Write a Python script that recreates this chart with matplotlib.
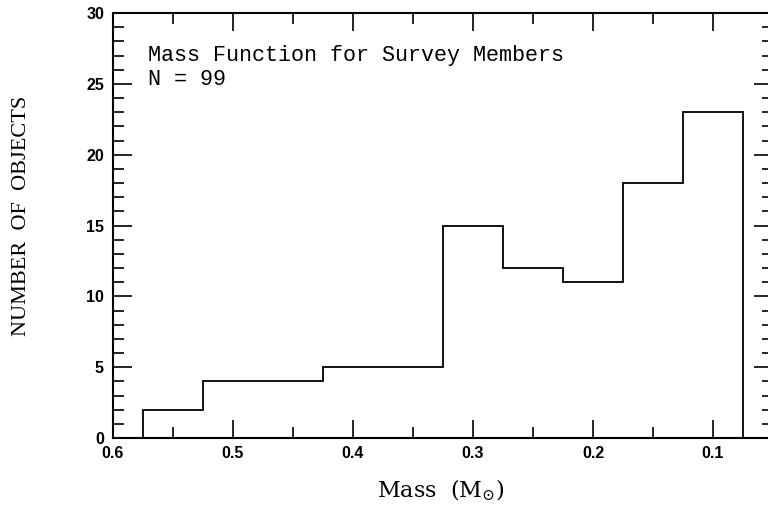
import matplotlib
matplotlib.use("Agg")
import matplotlib.pyplot as plt
from matplotlib.ticker import MultipleLocator
import numpy as np

# Data
bin_edges = [0.575, 0.525, 0.475, 0.425, 0.375, 0.325, 0.275, 0.225, 0.175, 0.125, 0.075]
counts = [2, 4, 4, 5, 5, 15, 12, 11, 18, 23]
x_ticks = [0.6, 0.5, 0.4, 0.3, 0.2, 0.1]
x_tick_labels = ["0.6", "0.5", "0.4", "0.3", "0.2", "0.1"]
y_ticks = [0, 5, 10, 15, 20, 25, 30]
title_line1 = "Mass Function for Survey Members"
title_line2 = "N = 99"

plt.rcParams['mathtext.fontset'] = 'dejavuserif'

fig = plt.figure(figsize=(7.68, 5.05), dpi=100)
ax = fig.add_axes([113/768, 67/505, 660/768, 425/505])

ax.stairs(counts, bin_edges, color='black', linewidth=1.3)

ax.set_xlim(0.6, 0.05)
ax.set_ylim(0, 30)

ax.set_xticks(x_ticks)
ax.set_xticklabels(x_tick_labels)
ax.xaxis.set_minor_locator(MultipleLocator(0.05))
ax.set_yticks(y_ticks)
ax.yaxis.set_minor_locator(MultipleLocator(1))

ax.tick_params(which='both', direction='in', top=True, right=True, width=1.2, color='black')
ax.tick_params(which='major', axis='x', length=13)
ax.tick_params(which='minor', axis='x', length=8)
ax.tick_params(which='major', axis='y', length=14)
ax.tick_params(which='minor', axis='y', length=8)
ax.tick_params(axis='x', pad=6)
ax.tick_params(axis='y', pad=6.5)

for lab in ax.get_xticklabels() + ax.get_yticklabels():
    lab.set_fontfamily('Liberation Sans')
    lab.set_fontweight('bold')
    lab.set_fontsize(11.5)

for sp in ax.spines.values():
    sp.set_linewidth(1.5)

ax.set_xlabel(r'Mass  (M$_{\odot}$)', fontfamily='DejaVu Serif', fontsize=16)
ax.xaxis.label.set_va('center')
ax.xaxis.set_label_coords((441 - 113) / 660, -(490 - 438) / 425)
ax.set_ylabel('NUMBER  OF  OBJECTS', fontfamily='Liberation Serif', fontsize=16)
ax.yaxis.label.set_va('center')
ax.yaxis.set_label_coords((22 - 113) / 660, (438 - 216) / 425)

ax.text(0.571, 27.0, title_line1, fontfamily='Liberation Mono', fontsize=15.7,
        va='center', ha='left')
ax.text(0.571, 25.3, title_line2, fontfamily='Liberation Mono', fontsize=15.7,
        va='center', ha='left')

fig.savefig('out.png', dpi=100)
